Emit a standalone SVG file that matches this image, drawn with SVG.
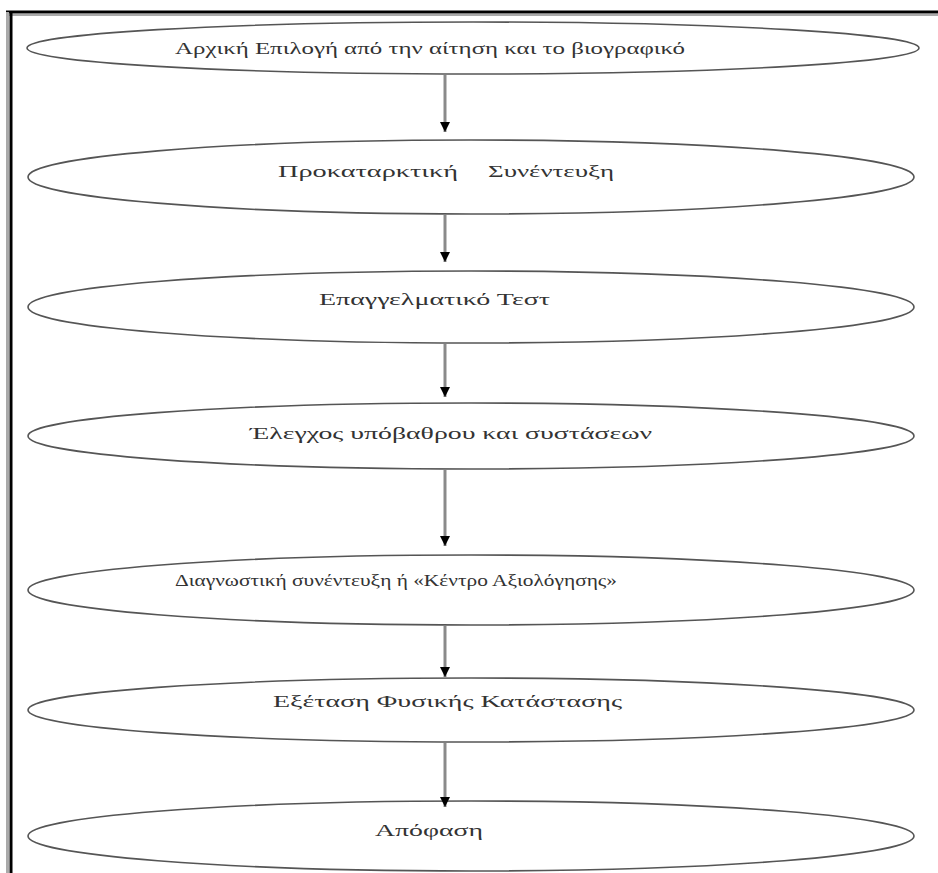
<svg xmlns="http://www.w3.org/2000/svg" width="938" height="873" viewBox="0 0 938 873">
<defs>
<style>
.node ellipse{fill:#fff;stroke:#555;stroke-width:1.6}
.node text{font-family:"Liberation Serif","DejaVu Serif",serif;font-size:17px;fill:#333;text-anchor:start}
.conn line{stroke:#8a8a8a;stroke-width:3}
</style>
<marker id="ah" viewBox="0 0 10 10" refX="10" refY="5" markerWidth="10" markerHeight="11" markerUnits="userSpaceOnUse" orient="auto">
<path d="M0,0 L10,5 L0,10 Z" fill="#000"/>
</marker>
</defs>
<rect width="938" height="873" fill="#fff"/>
<g id="frame">
<line x1="6" y1="12" x2="938" y2="12" stroke="#000" stroke-width="3"/>
<line x1="6" y1="15" x2="938" y2="15" stroke="#aaa" stroke-width="2"/>
<line x1="7.5" y1="12" x2="7.5" y2="873" stroke="#aaa" stroke-width="3"/>
<line x1="11" y1="12" x2="11" y2="873" stroke="#000" stroke-width="3"/>
</g>
<g id="n1" class="node">
<ellipse cx="473" cy="48" rx="446" ry="26"/>
<text x="175" y="54" textLength="510" lengthAdjust="spacingAndGlyphs">Αρχική Επιλογή από την αίτηση και το βιογραφικό</text>
</g>
<g id="n2" class="node">
<ellipse cx="471" cy="177" rx="443" ry="37"/>
<text x="278" y="177" textLength="180" lengthAdjust="spacingAndGlyphs">Προκαταρκτική</text>
<text x="488" y="177" textLength="126" lengthAdjust="spacingAndGlyphs">Συνέντευξη</text>
</g>
<g id="n3" class="node">
<ellipse cx="471" cy="307" rx="443" ry="36"/>
<text x="319" y="305" textLength="231" lengthAdjust="spacingAndGlyphs">Επαγγελματικό Τεστ</text>
</g>
<g id="n4" class="node">
<ellipse cx="471" cy="436" rx="443" ry="33"/>
<text x="250" y="439" textLength="402" lengthAdjust="spacingAndGlyphs">Έλεγχος υπόβαθρου και συστάσεων</text>
</g>
<g id="n5" class="node">
<ellipse cx="471" cy="590" rx="443" ry="35"/>
<text x="175" y="586" textLength="442" lengthAdjust="spacingAndGlyphs">Διαγνωστική συνέντευξη ή «Κέντρο Αξιολόγησης»</text>
</g>
<g id="n6" class="node">
<ellipse cx="471" cy="710" rx="443" ry="32"/>
<text x="273" y="707" textLength="349" lengthAdjust="spacingAndGlyphs">Εξέταση Φυσικής Κατάστασης</text>
</g>
<g id="n7" class="node">
<ellipse cx="471" cy="836" rx="443" ry="35"/>
<text x="375" y="836" textLength="108" lengthAdjust="spacingAndGlyphs">Απόφαση</text>
</g>
<g id="connectors" class="conn">
<line x1="445" y1="75" x2="445" y2="132" marker-end="url(#ah)"/>
<line x1="445" y1="215" x2="445" y2="262" marker-end="url(#ah)"/>
<line x1="445" y1="344" x2="445" y2="397" marker-end="url(#ah)"/>
<line x1="445" y1="470" x2="445" y2="546" marker-end="url(#ah)"/>
<line x1="445" y1="626" x2="445" y2="677" marker-end="url(#ah)"/>
<line x1="445" y1="743" x2="445" y2="807" marker-end="url(#ah)"/>
</g>
</svg>
